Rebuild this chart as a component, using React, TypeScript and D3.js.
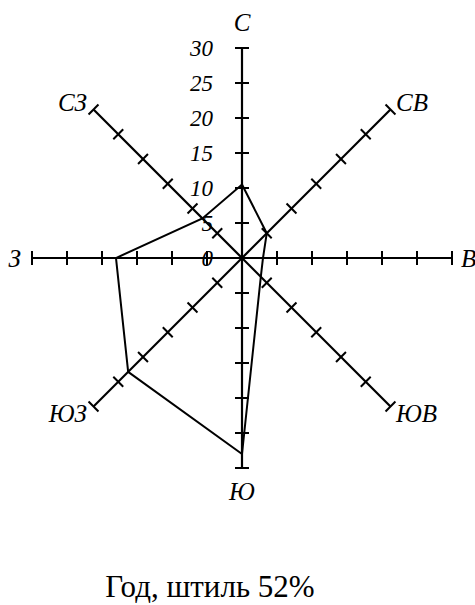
import React, { useEffect, useRef } from 'react';
import * as d3 from 'd3';

// wind rose data, % of year
const directions = ['С', 'СВ', 'В', 'ЮВ', 'Ю', 'ЮЗ', 'З', 'СЗ'];
const frequencies = [10.5, 5, 3, 3.8, 28, 23, 18, 8];
const tickValues = [5, 10, 15, 20, 25, 30];
const tickLabels = ['0', '5', '10', '15', '20', '25', '30'];
const title = 'Год, штиль 52%';

const App = () => {
    const svgRef = useRef<SVGSVGElement>(null);

    useEffect(() => {
        const width = 475, height = 605;
        const cx = 242, cy = 258;
        const font = '"Liberation Serif", "Times New Roman", serif';

        const svg = d3.select(svgRef.current)
            .html('')
            .attr('width', width)
            .attr('height', height)
            .attr('viewBox', `0 0 ${width} ${height}`);

        svg.append('rect').attr('width', width).attr('height', height).attr('fill', '#fff');

        const r = d3.scaleLinear().domain([0, 30]).range([0, 210]);
        const angle = d3.scaleOrdinal<string, number>()
            .domain(directions)
            .range(directions.map((d, i) => (i * Math.PI) / 4));

        const g = svg.append('g').attr('transform', `translate(${cx},${cy})`);

        // axes with ticks
        directions.forEach(dir => {
            const a = angle(dir);
            const ax = g.append('g').attr('transform', `rotate(${(a * 180) / Math.PI})`);
            ax.append('line')
                .attr('x1', 0).attr('y1', 0)
                .attr('x2', 0).attr('y2', -r(30))
                .attr('stroke', '#000').attr('stroke-width', 2.2);
            ax.selectAll('.tick')
                .data(tickValues)
                .enter().append('line')
                .attr('x1', -7).attr('x2', 7)
                .attr('y1', d => -r(d)).attr('y2', d => -r(d))
                .attr('stroke', '#000').attr('stroke-width', 2);
        });

        // tick labels on the north axis
        g.selectAll('.tlabel')
            .data(tickLabels)
            .enter().append('text')
            .attr('x', -29)
            .attr('y', d => -r(+d) + 8)
            .attr('text-anchor', 'end')
            .style('font-family', font)
            .style('font-style', 'italic')
            .style('font-size', '23px')
            .text(d => d);

        // wind rose polygon
        const line = d3.lineRadial<number>()
            .angle((d, i) => angle(directions[i]))
            .radius(d => r(d))
            .curve(d3.curveLinearClosed);
        g.append('path')
            .attr('d', line(frequencies))
            .attr('fill', 'none')
            .attr('stroke', '#000')
            .attr('stroke-width', 2)
            .attr('stroke-linejoin', 'miter');

        // direction labels
        const labelPos: Record<string, [number, number, string]> = {
            'С': [0, -227, 'middle'],
            'СВ': [154, -147, 'start'],
            'В': [219, 9, 'start'],
            'ЮВ': [154, 164, 'start'],
            'Ю': [0, 242, 'middle'],
            'ЮЗ': [-155, 164, 'end'],
            'З': [-221, 9, 'end'],
            'СЗ': [-155, -147, 'end'],
        };
        directions.forEach(dir => {
            const [x, y, anchor] = labelPos[dir];
            g.append('text')
                .attr('x', x).attr('y', y)
                .attr('text-anchor', anchor)
                .style('font-family', font)
                .style('font-style', 'italic')
                .style('font-size', '25px')
                .text(dir);
        });

        svg.append('text')
            .attr('x', 210)
            .attr('y', 597)
            .attr('text-anchor', 'middle')
            .style('font-family', font)
            .style('font-size', '31px')
            .text(title);
    }, []);

    return (
        <svg ref={svgRef} style={{ position: 'absolute', left: 0, top: 0 }}></svg>
    );
};

export default App;
